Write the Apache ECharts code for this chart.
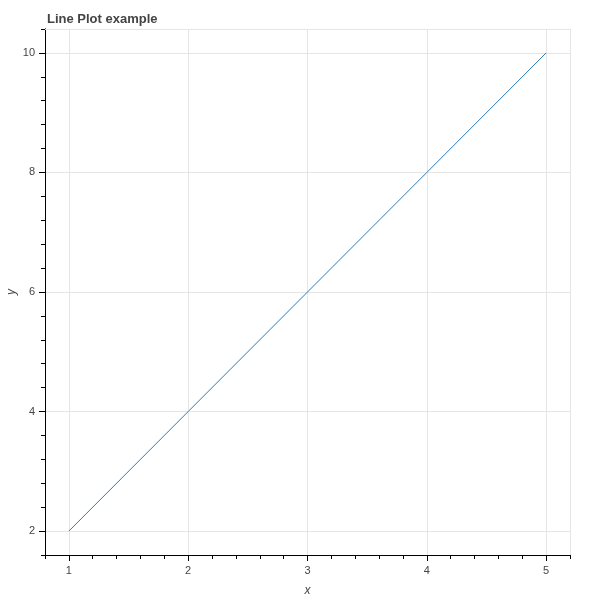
<!DOCTYPE html>
<html>
<head>
<meta charset="utf-8">
<script src="https://cdn.jsdelivr.net/npm/echarts@6/dist/echarts.min.js"></script>
<style>
  html, body { margin: 0; padding: 0; background: #fff; }
  #chart { width: 600px; height: 600px; }
</style>
</head>
<body>
<div id="chart"></div>
<script>
// data
const xValues = [1, 2, 3, 4, 5];
const yValues = [2, 4, 6, 8, 10];

// tick labels / positions
const xMajorTicks = [1, 2, 3, 4, 5];
const xMinorTicks = [0.8, 1, 1.2, 1.4, 1.6, 1.8, 2, 2.2, 2.4, 2.6, 2.8, 3, 3.2, 3.4, 3.6, 3.8, 4, 4.2, 4.4, 4.6, 4.8, 5, 5.2];
const yMajorTicks = [2, 4, 6, 8, 10];
const yMinorTicks = [1.6, 2, 2.4, 2.8, 3.2, 3.6, 4, 4.4, 4.8, 5.2, 5.6, 6, 6.4, 6.8, 7.2, 7.6, 8, 8.4, 8.8, 9.2, 9.6, 10, 10.4];

const font = 'Liberation Sans, Arial, sans-serif';
const gridColor = '#e5e5e5';
const textColor = '#444';

const chart = echarts.init(document.getElementById('chart'));

// 主轴：网格线、标签、长刻度
function majorAxis(min, max, interval, ticks, name, gap) {
  return {
    type: 'value',
    min: min,
    max: max,
    interval: interval,
    name: name,
    nameLocation: 'middle',
    nameGap: gap,
    nameMoveOverlap: false,
    nameTextStyle: { fontFamily: font, fontSize: 12, fontStyle: 'italic', color: textColor },
    axisLine: { show: true, onZero: false, lineStyle: { color: '#000', width: 1 } },
    axisTick: { show: true, length: 6, customValues: ticks, lineStyle: { color: '#000' } },
    axisLabel: { customValues: ticks, fontFamily: font, fontSize: 11, color: textColor, margin: 10 },
    splitLine: { show: true, lineStyle: { color: gridColor, width: 1 } }
  };
}

// 副轴：只画短刻度
function minorAxis(min, max, ticks) {
  return {
    type: 'value',
    min: min,
    max: max,
    axisLine: { show: true, onZero: false, lineStyle: { color: '#000', width: 1 } },
    axisTick: { show: true, length: 4, customValues: ticks, lineStyle: { color: '#000' } },
    axisLabel: { show: false },
    splitLine: { show: false }
  };
}

// 上、右边框：浅灰轴线
function borderAxis(min, max, pos) {
  return {
    type: 'value',
    min: min,
    max: max,
    position: pos,
    axisLine: { show: true, onZero: false, lineStyle: { color: gridColor, width: 1 } },
    axisTick: { show: false },
    axisLabel: { show: false },
    splitLine: { show: false }
  };
}

const xMajor = majorAxis(0.8, 5.2, 1, xMajorTicks, 'x', 30);
const yMajor = majorAxis(1.6, 10.4, 2, yMajorTicks, 'y', 27);
const xMinor = minorAxis(0.8, 5.2, xMinorTicks);
const yMinor = minorAxis(1.6, 10.4, yMinorTicks);
xMajor.position = 'bottom';
xMinor.position = 'bottom';
yMajor.position = 'left';
yMinor.position = 'left';

chart.setOption({
  backgroundColor: '#fff',
  animation: false,
  title: {
    text: 'Line Plot example',
    left: 42,
    top: 8,
    textStyle: { fontFamily: font, fontSize: 13, fontWeight: 'bold', color: textColor }
  },
  grid: {
    left: 45,
    right: 30,
    top: 29,
    bottom: 45,
    outerBoundsMode: 'none',
    containLabel: false,
    show: false
  },
  xAxis: [borderAxis(0.8, 5.2, 'top'), xMajor, xMinor],
  yAxis: [borderAxis(1.6, 10.4, 'right'), yMajor, yMinor],
  series: [{
    type: 'line',
    xAxisIndex: 1,
    yAxisIndex: 1,
    data: xValues.map((x, i) => [x, yValues[i]]),
    showSymbol: false,
    symbol: 'none',
    lineStyle: { color: '#2b7bba', width: 1 }
  }]
});
</script>
</body>
</html>
